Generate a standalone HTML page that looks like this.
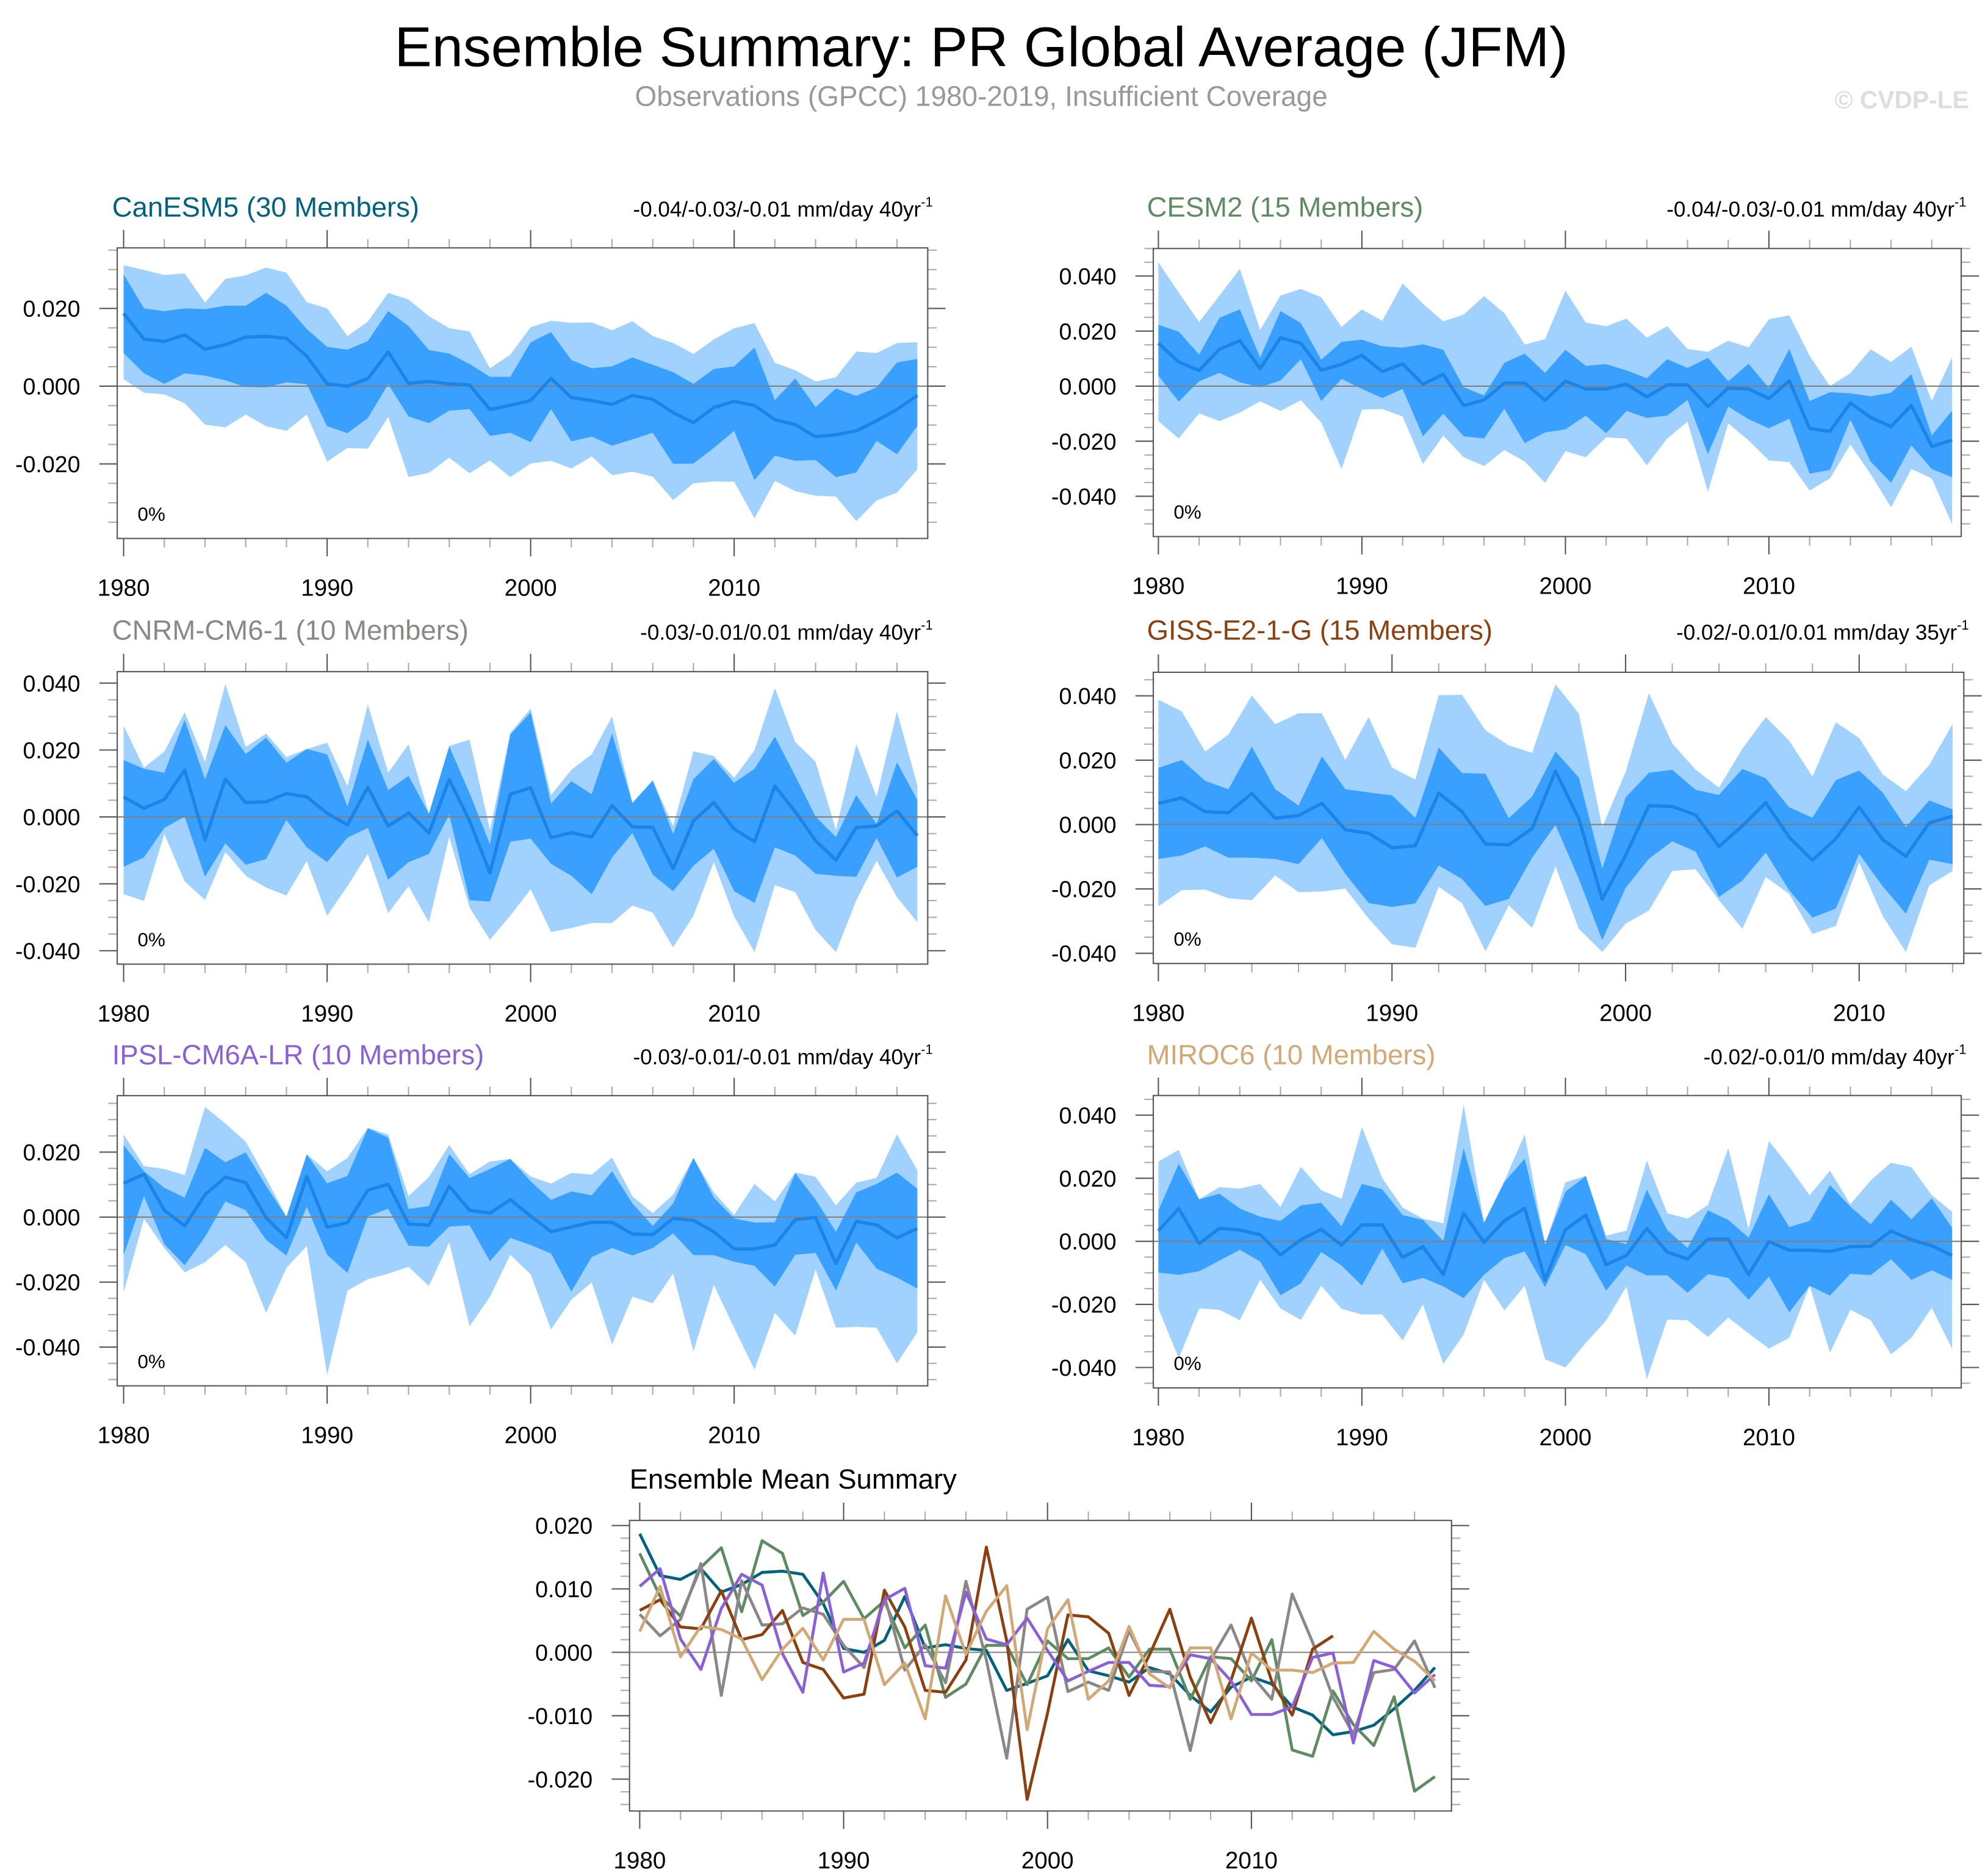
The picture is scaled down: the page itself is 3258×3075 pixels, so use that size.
<!DOCTYPE html>
<html><head><meta charset="utf-8"><title>Ensemble Summary: PR Global Average (JFM)</title>
<style>
html,body{margin:0;padding:0;background:#fff;}
svg{display:block;}
text{font-family:"Liberation Sans",Arial,sans-serif;}
</style></head>
<body>
<svg id="chart" xmlns="http://www.w3.org/2000/svg" width="3258" height="3075" viewBox="0 0 1560 1472" preserveAspectRatio="none">
<rect x="0" y="0" width="1560" height="1472" fill="#fff"/>
<text x="770" y="52" font-size="44" text-anchor="middle" fill="#000">Ensemble Summary: PR Global Average (JFM)</text>
<text x="770" y="83" font-size="22" text-anchor="middle" fill="#999">Observations (GPCC) 1980-2019, Insufficient Coverage</text>
<text x="1545" y="85" font-size="19.5" font-weight="bold" text-anchor="end" fill="#ddd">© CVDP-LE</text>
<g id="plots"></g>
</svg>
<script>
// ---------- DATA ----------
const canMean=[0.0187,0.0121,0.0115,0.0132,0.0095,0.0107,0.0126,0.0128,0.0123,0.0077,0.0006,0,0.0019,0.0088,0.0007,0.0012,0.0006,0.0003,-0.0060,-0.0049,-0.0037,0.0020,-0.0029,-0.0037,-0.0047,-0.0024,-0.0034,-0.0068,-0.0094,-0.0055,-0.0039,-0.0050,-0.0086,-0.0099,-0.0130,-0.0125,-0.0115,-0.0089,-0.0060,-0.0024];
const canInHi=[0.0288,0.0200,0.0193,0.0200,0.0198,0.0207,0.0207,0.0240,0.0207,0.0147,0.0101,0.0094,0.0116,0.0193,0.0155,0.0093,0.0084,0.0057,0.0024,0.0024,0.0113,0.0139,0.0067,0.0046,0.0051,0.0074,0.0055,0.0036,0.0006,0.0044,0.0051,0.0099,-0.0036,0.0020,-0.0054,-0.0006,-0.0025,-0.0003,0.0061,0.0070];
const canInLo=[0.0085,0.0033,0.0006,0.0033,0.0027,0.0015,-0.0002,-0.0003,0.0010,0.0005,-0.0103,-0.0121,-0.0082,0.0005,-0.0078,-0.0095,-0.0063,-0.0059,-0.0128,-0.0120,-0.0144,-0.0059,-0.0142,-0.0130,-0.0153,-0.0137,-0.0120,-0.0200,-0.0199,-0.0159,-0.0115,-0.0242,-0.0179,-0.0192,-0.0190,-0.0234,-0.0222,-0.0141,-0.0175,-0.0102];
const canOutHi=[0.0311,0.0299,0.0286,0.0290,0.0215,0.0276,0.0285,0.0305,0.0292,0.0216,0.0200,0.0129,0.0166,0.0240,0.0223,0.0180,0.0149,0.0141,0.0046,0.0081,0.0152,0.0168,0.0163,0.0164,0.0144,0.0167,0.0129,0.0111,0.0083,0.0120,0.0149,0.0162,0.0060,0.0041,0.0012,0.0023,0.0089,0.0085,0.0111,0.0113];
const canOutLo=[0.0018,-0.0017,-0.0021,-0.0044,-0.0099,-0.0106,-0.0073,-0.0103,-0.0115,-0.0073,-0.0194,-0.0159,-0.0161,-0.0079,-0.0234,-0.0223,-0.0184,-0.0224,-0.0191,-0.0234,-0.0199,-0.0192,-0.0212,-0.0181,-0.0229,-0.0220,-0.0233,-0.0293,-0.0250,-0.0245,-0.0246,-0.0340,-0.0244,-0.0270,-0.0282,-0.0284,-0.0347,-0.0294,-0.0274,-0.0214];

const cesMean=[0.0156,0.0088,0.0057,0.0134,0.0165,0.0064,0.0176,0.0156,0.0058,0.0079,0.0112,0.0053,0.0081,0.0007,0.0043,-0.0071,-0.0050,0.0011,0.0011,-0.0051,0.0018,-0.0010,-0.0010,0.0007,-0.0039,0.0005,0.0005,-0.0074,-0.0007,-0.0010,-0.0045,0.0020,-0.0154,-0.0164,-0.0061,-0.0114,-0.0147,-0.0070,-0.0219,-0.0196];
const cesInHi=[0.0223,0.0198,0.0115,0.0248,0.0279,0.0104,0.0273,0.0229,0.0096,0.0161,0.0169,0.0145,0.0140,0.0152,0.0132,-0.0004,-0.0034,0.0085,0.0118,0.0048,0.0132,0.0074,0.0080,0.0057,0.0029,0.0098,0.0066,0.0103,0.0018,0.0081,-0.0007,0.0135,-0.0054,-0.0022,-0.0026,-0.0037,-0.0024,0.0043,-0.0179,-0.0089];
const cesInLo=[0.0038,-0.0056,0.0018,0.0048,0.0014,-0.0004,0.0021,0.0098,-0.0054,0.0026,-0.0010,-0.0043,-0.0010,-0.0182,-0.0100,-0.0182,-0.0190,-0.0082,-0.0207,-0.0168,-0.0157,-0.0107,-0.0171,-0.0090,-0.0115,-0.0107,-0.0050,-0.0247,-0.0074,-0.0120,-0.0153,-0.0118,-0.0318,-0.0304,-0.0122,-0.0274,-0.0351,-0.0215,-0.0301,-0.0331];
const cesOutHi=[0.0450,0.0340,0.0233,0.0329,0.0426,0.0204,0.0329,0.0353,0.0323,0.0215,0.0279,0.0237,0.0373,0.0299,0.0235,0.0260,0.0327,0.0265,0.0151,0.0171,0.0347,0.0231,0.0218,0.0245,0.0176,0.0218,0.0135,0.0125,0.0165,0.0141,0.0243,0.0257,0.0110,0.0000,0.0047,0.0134,0.0088,0.0143,-0.0054,0.0104];
const cesOutLo=[-0.0127,-0.0190,-0.0099,-0.0127,-0.0096,-0.0055,-0.0090,-0.0051,-0.0132,-0.0301,-0.0085,-0.0083,-0.0110,-0.0283,-0.0180,-0.0258,-0.0290,-0.0232,-0.0274,-0.0351,-0.0236,-0.0258,-0.0186,-0.0190,-0.0287,-0.0190,-0.0129,-0.0384,-0.0135,-0.0197,-0.0270,-0.0276,-0.0379,-0.0335,-0.0212,-0.0320,-0.0440,-0.0301,-0.0335,-0.0501];

const cnrMean=[0.0060,0.0026,0.0052,0.0140,-0.0068,0.0113,0.0043,0.0045,0.0070,0.0060,0.0011,-0.0024,0.0089,-0.0028,0.0012,-0.0048,0.0112,-0.0012,-0.0167,0.0068,0.0087,-0.0062,-0.0047,-0.0060,0.0034,-0.0030,-0.0031,-0.0155,-0.0012,0.0043,-0.0036,-0.0074,0.0092,0.0016,-0.0071,-0.0129,-0.0032,-0.0027,0.0018,-0.0056];
const cnrInHi=[0.0170,0.0144,0.0132,0.0290,0.0112,0.0274,0.0188,0.0237,0.0162,0.0203,0.0187,0.0031,0.0231,0.0080,0.0123,0.0010,0.0211,0.0071,-0.0082,0.0246,0.0312,0.0040,0.0107,0.0068,0.0249,0.0041,0.0109,-0.0051,0.0113,0.0173,0.0102,0.0144,0.0240,0.0123,0.0001,-0.0060,0.0065,-0.0021,0.0163,0.0051];
const cnrInLo=[-0.0149,-0.0121,-0.0033,0.0001,-0.0179,-0.0079,-0.0143,-0.0126,-0.0009,-0.0091,-0.0135,-0.0062,-0.0033,-0.0188,-0.0135,-0.0111,0.0007,-0.0249,-0.0253,-0.0074,-0.0065,-0.0140,-0.0176,-0.0231,-0.0121,-0.0048,-0.0173,-0.0222,-0.0146,-0.0095,-0.0222,-0.0257,-0.0091,-0.0115,-0.0170,-0.0176,-0.0179,-0.0063,-0.0181,-0.0149];
const cnrOutHi=[0.0273,0.0147,0.0195,0.0313,0.0165,0.0397,0.0209,0.0249,0.0179,0.0203,0.0222,0.0092,0.0336,0.0132,0.0217,0.0010,0.0212,0.0231,-0.0039,0.0251,0.0324,0.0065,0.0141,0.0187,0.0300,0.0043,0.0109,-0.0027,0.0196,0.0182,0.0117,0.0199,0.0385,0.0224,0.0165,-0.0039,0.0217,0.0060,0.0315,0.0095];
const cnrOutLo=[-0.0231,-0.0251,-0.0051,-0.0193,-0.0248,-0.0105,-0.0176,-0.0211,-0.0235,-0.0132,-0.0295,-0.0207,-0.0110,-0.0288,-0.0207,-0.0315,-0.0060,-0.0271,-0.0367,-0.0295,-0.0216,-0.0344,-0.0332,-0.0317,-0.0317,-0.0265,-0.0286,-0.0390,-0.0295,-0.0135,-0.0298,-0.0404,-0.0204,-0.0225,-0.0338,-0.0404,-0.0249,-0.0131,-0.0240,-0.0315];

const gisMean=[0.0066,0.0083,0.0040,0.0037,0.0097,0.0020,0.0028,0.0066,-0.0016,-0.0027,-0.0072,-0.0066,0.0098,0.0040,-0.0060,-0.0063,-0.0012,0.0166,0.0018,-0.0232,-0.0096,0.0059,0.0056,0.0030,-0.0068,-0.0004,0.0068,-0.0039,-0.0111,-0.0044,0.0054,-0.0046,-0.0099,0.0005,0.0026];
const gisInHi=[0.0176,0.0201,0.0136,0.0110,0.0242,0.0110,0.0059,0.0212,0.0110,0.0100,0.0091,0.0021,0.0239,0.0160,0.0158,0.0020,0.0087,0.0227,0.0146,-0.0137,0.0084,0.0161,0.0170,0.0108,0.0092,0.0173,0.0144,0.0054,0.0021,0.0138,0.0168,0.0100,-0.0008,0.0075,0.0047];
const gisInLo=[-0.0107,-0.0096,-0.0068,-0.0103,-0.0103,-0.0107,-0.0123,-0.0042,-0.0153,-0.0244,-0.0256,-0.0245,-0.0127,-0.0169,-0.0253,-0.0231,-0.0103,-0.0001,-0.0169,-0.0359,-0.0197,-0.0106,-0.0052,-0.0084,-0.0225,-0.0174,-0.0087,-0.0204,-0.0289,-0.0261,-0.0091,-0.0191,-0.0277,-0.0109,-0.0123];
const gisOutHi=[0.0388,0.0352,0.0227,0.0280,0.0401,0.0312,0.0346,0.0346,0.0201,0.0334,0.0177,0.0140,0.0402,0.0403,0.0293,0.0246,0.0223,0.0436,0.0345,-0.0008,0.0163,0.0408,0.0252,0.0170,0.0115,0.0236,0.0334,0.0261,0.0149,0.0318,0.0269,0.0156,0.0104,0.0185,0.0313];
const gisOutLo=[-0.0254,-0.0204,-0.0202,-0.0229,-0.0235,-0.0158,-0.0210,-0.0208,-0.0199,-0.0292,-0.0372,-0.0383,-0.0193,-0.0244,-0.0394,-0.0251,-0.0321,-0.0130,-0.0324,-0.0396,-0.0308,-0.0267,-0.0144,-0.0139,-0.0235,-0.0324,-0.0163,-0.0215,-0.0340,-0.0315,-0.0118,-0.0283,-0.0396,-0.0189,-0.0144];

const ipsMean=[0.0104,0.0132,0.0021,-0.0027,0.0069,0.0123,0.0106,-0.0002,-0.0063,0.0125,-0.0031,-0.0017,0.0083,0.0101,-0.0021,-0.0025,0.0095,0.0021,0.0012,0.0054,0.0003,-0.0045,-0.0030,-0.0016,-0.0016,-0.0052,-0.0054,-0.0004,-0.0010,-0.0045,-0.0098,-0.0098,-0.0086,-0.0008,-0.0001,-0.0143,-0.0013,-0.0024,-0.0064,-0.0035];
const ipsInHi=[0.0222,0.0141,0.0090,0.0060,0.0213,0.0169,0.0199,0.0096,0.0001,0.0193,0.0104,0.0127,0.0273,0.0244,0.0025,0.0034,0.0194,0.0120,0.0148,0.0179,0.0110,0.0053,0.0079,0.0067,0.0141,0.0042,-0.0027,0.0042,0.0182,0.0060,-0.0004,-0.0017,-0.0016,0.0135,0.0054,-0.0045,0.0076,0.0102,0.0137,0.0087];
const ipsInLo=[-0.0117,0.0064,-0.0083,-0.0148,-0.0061,0.0048,0.0021,-0.0070,-0.0118,0.0032,-0.0116,-0.0172,0.0002,0.0026,-0.0088,-0.0091,-0.0029,-0.0025,-0.0136,-0.0064,-0.0086,-0.0112,-0.0229,-0.0123,-0.0095,-0.0118,-0.0095,-0.0050,-0.0117,-0.0117,-0.0137,-0.0150,-0.0214,-0.0116,-0.0110,-0.0226,-0.0078,-0.0159,-0.0186,-0.0220];
const ipsOutHi=[0.0254,0.0157,0.0148,0.0129,0.0339,0.0288,0.0232,0.0120,0.0001,0.0193,0.0141,0.0182,0.0275,0.0254,0.0065,0.0123,0.0222,0.0132,0.0171,0.0179,0.0125,0.0103,0.0136,0.0131,0.0183,0.0064,0.0012,0.0069,0.0182,0.0076,0.0007,0.0102,0.0048,0.0137,0.0124,0.0036,0.0106,0.0121,0.0254,0.0145];
const ipsOutLo=[-0.0232,-0.0005,-0.0095,-0.0170,-0.0139,-0.0086,-0.0139,-0.0295,-0.0156,-0.0089,-0.0485,-0.0226,-0.0191,-0.0174,-0.0153,-0.0212,-0.0078,-0.0336,-0.0245,-0.0116,-0.0176,-0.0346,-0.0254,-0.0201,-0.0392,-0.0245,-0.0265,-0.0174,-0.0413,-0.0209,-0.0341,-0.0469,-0.0295,-0.0365,-0.0161,-0.0340,-0.0338,-0.0340,-0.0450,-0.0354];

const mirMean=[0.0033,0.0104,-0.0007,0.0041,0.0036,0.0021,-0.0043,0.0005,0.0038,-0.0012,0.0052,0.0052,-0.0051,-0.0017,-0.0105,0.0089,-0.0003,0.0065,0.0105,-0.0122,0.0037,0.0083,-0.0074,-0.0045,0.0041,-0.0034,-0.0056,0.0007,0.0007,-0.0105,-0.0001,-0.0028,-0.0028,-0.0032,-0.0017,-0.0016,0.0033,0.0005,-0.0014,-0.0045];
const mirInHi=[0.0098,0.0246,0.0133,0.0151,0.0104,0.0078,0.0065,0.0114,0.0122,0.0048,0.0182,0.0165,0.0083,0.0068,0.0001,0.0295,0.0059,0.0188,0.0262,-0.0008,0.0157,0.0207,0.0007,-0.0009,0.0164,0.0036,-0.0021,0.0098,0.0068,0.0012,0.0149,0.0045,0.0065,0.0178,0.0110,0.0054,0.0132,0.0070,0.0136,0.0043];
const mirInLo=[-0.0099,-0.0106,-0.0095,-0.0061,-0.0027,-0.0064,-0.0171,-0.0133,-0.0034,-0.0077,-0.0140,-0.0023,-0.0133,-0.0116,-0.0143,-0.0180,-0.0106,-0.0053,-0.0032,-0.0145,-0.0012,-0.0041,-0.0156,-0.0077,-0.0108,-0.0108,-0.0163,-0.0104,-0.0116,-0.0185,-0.0112,-0.0225,-0.0141,-0.0172,-0.0103,-0.0107,-0.0057,-0.0122,-0.0092,-0.0122];
const mirOutHi=[0.0253,0.0290,0.0133,0.0172,0.0167,0.0182,0.0109,0.0236,0.0162,0.0135,0.0362,0.0200,0.0107,0.0072,0.0057,0.0433,0.0059,0.0191,0.0339,-0.0012,0.0187,0.0207,0.0018,0.0034,0.0256,0.0089,0.0072,0.0115,0.0295,0.0039,0.0318,0.0236,0.0146,0.0224,0.0117,0.0193,0.0249,0.0235,0.0146,0.0094];
const mirOutLo=[-0.0213,-0.0371,-0.0213,-0.0217,-0.0250,-0.0122,-0.0213,-0.0249,-0.0141,-0.0214,-0.0232,-0.0232,-0.0314,-0.0200,-0.0389,-0.0295,-0.0122,-0.0219,-0.0141,-0.0374,-0.0400,-0.0322,-0.0251,-0.0143,-0.0437,-0.0248,-0.0250,-0.0303,-0.0242,-0.0292,-0.0340,-0.0306,-0.0141,-0.0353,-0.0217,-0.0250,-0.0358,-0.0306,-0.0211,-0.0340];

const startYear=1980;
const panelTitles=["CanESM5 (30 Members)","CESM2 (15 Members)","CNRM-CM6-1 (10 Members)","GISS-E2-1-G (15 Members)","IPSL-CM6A-LR (10 Members)","MIROC6 (10 Members)"];
const trendLabels=["-0.04/-0.03/-0.01 mm/day 40yr","-0.04/-0.03/-0.01 mm/day 40yr","-0.03/-0.01/0.01 mm/day 40yr","-0.02/-0.01/0.01 mm/day 35yr","-0.03/-0.01/-0.01 mm/day 40yr","-0.02/-0.01/0 mm/day 40yr"];
const yTicksA=[0.02,0,-0.02];
const yTicksB=[0.04,0.02,0,-0.02,-0.04];
const yTicksMean=[0.02,0.01,0,-0.01,-0.02];
const xTickYears=[1980,1990,2000,2010];

// ---------- DRAWING ----------
const NS="http://www.w3.org/2000/svg";
const root=document.getElementById('plots');
function mk(tag,attrs,parent){const e=document.createElementNS(NS,tag);for(const k in attrs)e.setAttribute(k,attrs[k]);(parent||root).appendChild(e);return e;}
function fmt(v){if(Math.abs(v)<1e-9)return "0.000";return v.toFixed(3);}

const modelColors=["#00627f","#5f8b62","#8c8787","#8b400f","#8a60d4","#d2a877"];
const panels=[
 {L:92,R:728,T:194.5,B:422.5,x0:97,dx:15.97,y0:303,ppu:3050,ticks:yTicksA,name:"canesm5",data:[canMean,canInHi,canInLo,canOutHi,canOutLo],titleX:88,titleY:170},
 {L:905,R:1539,T:195,B:421,x0:909,dx:15.97,y0:303,ppu:2160,ticks:yTicksB,name:"cesm2",data:[cesMean,cesInHi,cesInLo,cesOutHi,cesOutLo],titleX:900,titleY:170},
 {L:92,R:728,T:527,B:756.5,x0:97,dx:15.97,y0:641,ppu:2625,ticks:yTicksB,name:"cnrm-cm6-1",data:[cnrMean,cnrInHi,cnrInLo,cnrOutHi,cnrOutLo],titleX:88,titleY:502},
 {L:905,R:1541,T:527.5,B:756,x0:909,dx:18.33,y0:647,ppu:2525,ticks:yTicksB,name:"giss-e2-1-g",data:[gisMean,gisInHi,gisInLo,gisOutHi,gisOutLo],titleX:900,titleY:502},
 {L:92,R:728,T:859.7,B:1087.4,x0:97,dx:15.97,y0:955,ppu:2550,ticks:yTicksA.concat([-0.04]),name:"ipsl-cm6a-lr",data:[ipsMean,ipsInHi,ipsInLo,ipsOutHi,ipsOutLo],titleX:88,titleY:835},
 {L:905,R:1539,T:859.6,B:1089,x0:909,dx:15.97,y0:974,ppu:2475,ticks:yTicksB,name:"miroc6",data:[mirMean,mirInHi,mirInLo,mirOutHi,mirOutLo],titleX:900,titleY:835}
];

function drawAxes(g,p,ticks,minorStep,lastYear,tickFmt,labelX){
  const ys=v=>p.y0-v*p.ppu;
  const xs=y=>p.x0+(y-startYear)*p.dx;
  mk('line',{x1:p.L,x2:p.R,y1:ys(0),y2:ys(0),stroke:'#808080','stroke-width':1},g);
  const vTop=(p.y0-p.T)/p.ppu, vBot=(p.y0-p.B)/p.ppu;
  for(let k=Math.ceil(vBot/minorStep-1e-6);k<=Math.floor(vTop/minorStep+1e-6);k++){
    const v=k*minorStep;const y=ys(v);
    const major=ticks.some(t=>Math.abs(t-v)<1e-9);
    const len=major?14:7;const col=major?'#555':'#aaa';
    mk('line',{x1:p.L-len,x2:p.L,y1:y,y2:y,stroke:col,'stroke-width':1},g);
    mk('line',{x1:p.R,x2:p.R+len,y1:y,y2:y,stroke:col,'stroke-width':1},g);
  }
  ticks.forEach(t=>{
    const tl=mk('text',{x:labelX,y:ys(t)+6.5,'font-size':18,'text-anchor':'end',fill:'#000'},g);
    
    
    tl.textContent=tickFmt(t);
  });
  for(let yr=startYear;yr<=lastYear;yr+=2){
    const x=xs(yr);if(x>p.R)break;
    const major=(yr%10===0);const len=major?14:7;const col=major?'#555':'#aaa';
    mk('line',{x1:x,x2:x,y1:p.B,y2:p.B+len,stroke:col,'stroke-width':1},g);
    mk('line',{x1:x,x2:x,y1:p.T-len,y2:p.T,stroke:col,'stroke-width':1},g);
  }
  xTickYears.forEach(yr=>{
    const tl=mk('text',{x:xs(yr),y:p.B+45,'font-size':18.5,'text-anchor':'middle',fill:'#000'},g);
    
    
    tl.textContent=String(yr);
  });
}

panels.forEach((p,i)=>{
  const g=mk('g',{});
  
  
  const ys=v=>p.y0-v*p.ppu;
  const xs=j=>p.x0+j*p.dx;
  const [mean,inHi,inLo,outHi,outLo]=p.data;
  const poly=(hi,lo)=>{let pts=[];hi.forEach((v,j)=>pts.push(xs(j).toFixed(2)+','+ys(v).toFixed(2)));for(let j=lo.length-1;j>=0;j--)pts.push(xs(j).toFixed(2)+','+ys(lo[j]).toFixed(2));return pts.join(' ');};
  const ob=mk('polygon',{points:poly(outHi,outLo),fill:'#a0d1ff'},g);
  
  
  const ib=mk('polygon',{points:poly(inHi,inLo),fill:'#39a0ff'},g);
  
  
  drawAxes(g,p,p.ticks,0.005,startYear+mean.length-1,fmt,p.L<300?63:876);
  const ml=mk('polyline',{points:mean.map((v,j)=>xs(j).toFixed(2)+','+ys(v).toFixed(2)).join(' '),fill:'none',stroke:'#1b84e6','stroke-width':2.6,'stroke-linejoin':'round'},g);
  
  
  const fr=mk('rect',{x:p.L,y:p.T,width:p.R-p.L,height:p.B-p.T,fill:'none',stroke:'#555','stroke-width':1},g);
  
  
  const t=mk('text',{x:p.titleX,y:p.titleY,'font-size':21.8,fill:modelColors[i]},g);
  
  
  t.textContent=panelTitles[i];
  const tr=mk('text',{x:p.R+4,y:p.titleY,'font-size':16.8,'text-anchor':'end',fill:'#000'},g);
  
  
  tr.textContent=trendLabels[i];
  const sup=mk('tspan',{'font-size':10.5,dy:-8},tr);sup.textContent='-1';
  const pc=mk('text',{x:p.L+16,y:p.B-14,'font-size':15,fill:'#000'},g);
  
  
  pc.textContent='0%';
});

// ---------- Ensemble mean summary ----------
(function(){
  const p={L:494,R:1139,T:1193,B:1421,x0:502,dx:16,y0:1296.5,ppu:4975};
  const g=mk('g',{});
  
  
  const ys=v=>p.y0-v*p.ppu;
  const xs=j=>p.x0+j*p.dx;
  drawAxes(g,p,yTicksMean,0.002,2019,fmt,465);
  const means=[canMean,cesMean,cnrMean,gisMean,ipsMean,mirMean];
  means.forEach((m,i)=>{
    const l=mk('polyline',{points:m.map((v,j)=>xs(j).toFixed(2)+','+ys(v).toFixed(2)).join(' '),fill:'none',stroke:modelColors[i],'stroke-width':2.3,'stroke-linejoin':'round'},g);
    
    
  });
  const fr=mk('rect',{x:p.L,y:p.T,width:p.R-p.L,height:p.B-p.T,fill:'none',stroke:'#555','stroke-width':1},g);
  
  
  const t=mk('text',{x:494,y:1168,'font-size':21.8,fill:'#000'},g);
  
  
  t.textContent='Ensemble Mean Summary';
})();
</script>
</body></html>
